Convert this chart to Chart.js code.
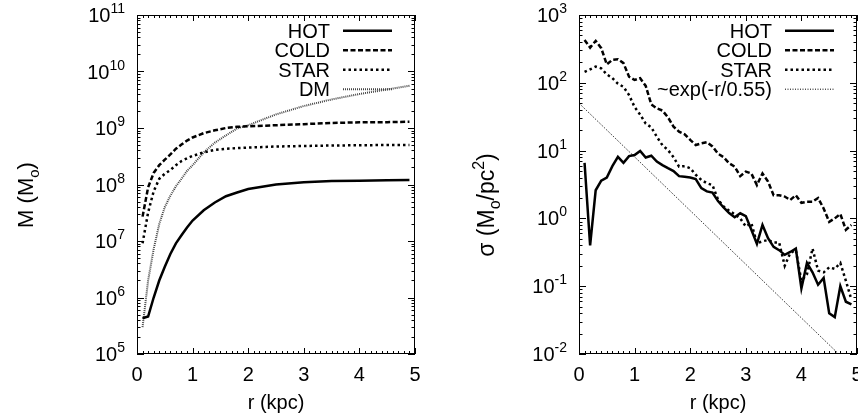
<!doctype html>
<html>
    <head>
        <meta charset="UTF-8" />
        <title>Mass and surface density profiles</title>
        <script src="https://cdn.jsdelivr.net/npm/chart.js"></script>
        <style>
            body { margin: 0; background: #fff; overflow: hidden; }
            #wrap { position: relative; width: 858px; height: 419px; }
            canvas { position: absolute; top: 0; }
        </style>
    </head>

    <body>
        <div id="wrap">
            <canvas id="massChart" width="429" height="419" style="left:0px"></canvas>
            <canvas id="sigmaChart" width="429" height="419" style="left:429px"></canvas>
        </div>

        <script>
        // ---- left panel: enclosed mass M(<r) ----
        var rMass = [0.1, 0.2, 0.3, 0.4, 0.5, 0.6, 0.7, 0.8, 0.9, 1.0, 1.2, 1.4, 1.6, 1.8, 2.0, 2.5, 3.0, 3.5, 4.0, 4.5, 4.9];
        var hotMass  = [4.3e5, 4.6e5, 1.0e6, 2.0e6, 3.5e6, 5.9e6, 9.1e6, 1.26e7, 1.74e7, 2.3e7, 3.5e7, 4.8e7, 6.2e7, 7.2e7, 8.3e7, 1.0e8, 1.1e8, 1.15e8, 1.17e8, 1.19e8, 1.2e8];
        var coldMass = [2.7e7, 8.9e7, 1.6e8, 2.2e8, 2.75e8, 3.4e8, 4.3e8, 5.1e8, 6.0e8, 6.8e8, 8.1e8, 9.1e8, 1.0e9, 1.05e9, 1.07e9, 1.12e9, 1.17e9, 1.23e9, 1.26e9, 1.27e9, 1.29e9];
        var starMass = [9.1e6, 3.2e7, 7.6e7, 1.26e8, 1.55e8, 1.8e8, 2.2e8, 2.6e8, 2.9e8, 3.2e8, 3.7e8, 4.1e8, 4.3e8, 4.4e8, 4.5e8, 4.7e8, 4.8e8, 4.9e8, 4.95e8, 5.0e8, 5.0e8];
        var dmMass   = [3.0e5, 2.0e6, 7.2e6, 2.0e7, 4.0e7, 6.3e7, 9.3e7, 1.26e8, 1.74e8, 2.2e8, 3.7e8, 5.5e8, 7.4e8, 9.8e8, 1.12e9, 1.74e9, 2.45e9, 3.2e9, 4.0e9, 4.8e9, 5.6e9];

        // ---- right panel: surface density sigma(r) ----
        var rSigma = [0.1, 0.2, 0.3, 0.4, 0.5, 0.6, 0.7, 0.8, 0.9, 1.0,
                      1.1, 1.2, 1.3, 1.4, 1.5, 1.6, 1.7, 1.8, 1.9, 2.0,
                      2.1, 2.2, 2.3, 2.4, 2.5, 2.6, 2.7, 2.8, 2.9, 3.0,
                      3.1, 3.2, 3.3, 3.4, 3.5, 3.6, 3.7, 3.8, 3.9, 4.0,
                      4.1, 4.2, 4.3, 4.4, 4.5, 4.6, 4.7, 4.8, 4.9];
        var hotSigma  = [6.6, 0.40, 2.6, 3.6, 4.0, 5.9, 8.1, 6.6, 8.3, 8.6,
                         9.9, 7.9, 8.4, 6.9, 6.1, 5.5, 5.0, 4.2, 4.1, 4.0,
                         3.8, 2.8, 2.5, 2.4, 1.8, 1.45, 1.2, 1.04, 1.19, 1.08,
                         0.68, 0.42, 0.80, 0.51, 0.38, 0.34, 0.29, 0.32, 0.36, 0.093,
                         0.22, 0.16, 0.105, 0.132, 0.040, 0.035, 0.10, 0.059, 0.054];
        var coldSigma = [427, 330, 415, 324, 187, 218, 223, 195, 123, 110,
                         117, 90, 48, 42, 39, 31, 22.6, 19, 17.4, 14.4,
                         12.1, 12.8, 13.3, 11.5, 9.0, 8.0, 6.5, 5.8, 4.2, 4.9,
                         4.6, 3.1, 4.6, 3.5, 2.2, 2.2, 2.1, 1.87, 2.2, 1.7,
                         1.76, 1.76, 2.0, 1.4, 0.89, 1.0, 1.16, 0.68, 0.80];
        var starSigma = [145, 158, 173, 163, 133, 117, 97, 87, 66, 44,
                         34, 25, 22, 16, 12, 10.2, 8.0, 5.8, 5.9, 5.5,
                         4.4, 3.7, 3.3, 3.1, 1.9, 1.5, 1.3, 1.15, 1.0, 0.76,
                         0.85, 0.43, 0.46, 0.48, 0.44, 0.44, 0.20, 0.31, 0.34, 0.12,
                         0.15, 0.36, 0.17, 0.16, 0.19, 0.18, 0.22, 0.12, 0.063];
        // straight fit line ~exp(-r/0.55), end points
        var rFit = [0, 4.66];
        var fitSigma = [50, 0.0102];

        // ---- axes ----
        var xTicks = [0, 1, 2, 3, 4, 5];
        var massTickExps = [5, 6, 7, 8, 9, 10, 11];
        var sigmaTickExps = [-2, -1, 0, 1, 2, 3];

        var FONT = '"Liberation Sans", Arial, sans-serif';
        var MAIN = 20;

        function pts(xs, ys) {
            return xs.map(function (x, i) { return {x: x, y: ys[i]}; });
        }

        function line(label, xs, ys, width, dash, color) {
            return {
                label: label, data: pts(xs, ys),
                borderColor: color || '#000', borderWidth: width, borderDash: dash,
                borderCapStyle: 'butt', pointRadius: 0, fill: false, tension: 0
            };
        }

        // text with super/subscripts: parts = [[text, shift]], shift 1 = sup, -1 = sub
        function drawRich(ctx, parts, x, y, align, size) {
            size = size || MAIN;
            var small = Math.round(size * 0.7);
            var widths = parts.map(function (p) {
                ctx.font = (p[1] ? small : size) + 'px ' + FONT;
                return ctx.measureText(p[0]).width;
            });
            var total = widths.reduce(function (a, b) { return a + b; }, 0);
            var cx = align === 'right' ? x - total : (align === 'center' ? x - total / 2 : x);
            ctx.textAlign = 'left';
            ctx.textBaseline = 'alphabetic';
            parts.forEach(function (p, i) {
                ctx.font = (p[1] ? small : size) + 'px ' + FONT;
                ctx.fillText(p[0], cx, y + (p[1] > 0 ? -0.45 * size : (p[1] < 0 ? 0.25 * size : 0)));
                cx += widths[i];
            });
        }

        // per-chart text settings (kept out of Chart options)
        var panelText = {
            massChart: {exps: massTickExps, title: [['M (M', 0], ['o', -1], [')', 0]], titleX: 26, titleY: 195, titleSize: 22},
            sigmaChart: {exps: sigmaTickExps, title: [['\u03c3 (M', 0], ['o', -1], ['/pc', 0], ['2', 1], [')', 0]], titleX: 58, titleY: 205, titleSize: 23}
        };

        var framePlugin = {
            id: 'frameTicks',
            afterDatasetsDraw: function (chart) {
                var ctx = chart.ctx, a = chart.chartArea;
                var xs = chart.scales.x, ys = chart.scales.y;
                ctx.save();
                ctx.strokeStyle = '#000';
                ctx.lineWidth = 1;
                ctx.setLineDash([]);
                ctx.beginPath();
                for (var i = 0; i <= 50; i++) {
                    var px = Math.round(xs.getPixelForValue(i / 10)) + 0.5;
                    var len = i % 10 === 0 ? 6 : 3;
                    ctx.moveTo(px, a.bottom); ctx.lineTo(px, a.bottom - len);
                    ctx.moveTo(px, a.top); ctx.lineTo(px, a.top + len);
                }
                var lo = Math.round(Math.log10(ys.min)), hi = Math.round(Math.log10(ys.max));
                for (var e = lo; e <= hi; e++) {
                    for (var k = 1; k <= 9; k++) {
                        if (e === hi && k > 1) break;
                        var py = Math.round(ys.getPixelForValue(k * Math.pow(10, e))) + 0.5;
                        var l = k === 1 ? 7 : 3.5;
                        ctx.moveTo(a.left, py); ctx.lineTo(a.left + l, py);
                        ctx.moveTo(a.right, py); ctx.lineTo(a.right - l, py);
                    }
                }
                ctx.stroke();
                ctx.strokeRect(a.left + 0.5, a.top + 0.5, a.right - a.left - 1, a.bottom - a.top - 1);
                ctx.restore();
            }
        };

        var textPlugin = {
            id: 'panelText',
            afterDraw: function (chart) {
                var ctx = chart.ctx, a = chart.chartArea;
                var xs = chart.scales.x, ys = chart.scales.y;
                var cfg = panelText[chart.canvas.id];
                ctx.save();
                ctx.fillStyle = '#000';
                // y tick labels 10^n
                cfg.exps.forEach(function (e) {
                    var py = ys.getPixelForValue(Math.pow(10, e));
                    drawRich(ctx, [['10', 0], [String(e), 1]], a.left - 12, py + 7, 'right');
                });
                // x tick labels
                xTicks.forEach(function (v) {
                    drawRich(ctx, [[String(v), 0]], xs.getPixelForValue(v), 381, 'center');
                });
                drawRich(ctx, [['r (kpc)', 0]], (a.left + a.right) / 2, 409, 'center');
                // rotated y title
                ctx.save();
                ctx.translate(cfg.titleX, cfg.titleY);
                ctx.rotate(-Math.PI / 2);
                drawRich(ctx, cfg.title, 0, 7, 'center', cfg.titleSize);
                ctx.restore();
                // key, top right, text right-aligned with sample line after it
                chart.data.datasets.forEach(function (ds, i) {
                    var y = a.top + 15.7 + i * 19.5;
                    drawRich(ctx, [[ds.label, 0]], a.right - 85, y + 7, 'right');
                    ctx.beginPath();
                    ctx.strokeStyle = ds.borderColor;
                    ctx.lineWidth = ds.borderWidth;
                    ctx.setLineDash(ds.borderDash);
                    ctx.lineCap = 'butt';
                    ctx.moveTo(a.right - 72, y);
                    ctx.lineTo(a.right - 23, y);
                    ctx.stroke();
                });
                ctx.restore();
            }
        };

        function makeChart(id, datasets, yMin, yMax, axisWidth, rightPad) {
            return new Chart(document.getElementById(id).getContext('2d'), {
                type: 'line',
                data: {datasets: datasets},
                options: {
                    responsive: false,
                    animation: false,
                    layout: {padding: {top: 15, right: rightPad, left: 0, bottom: 0}},
                    plugins: {legend: {display: false}, tooltip: {enabled: false}},
                    scales: {
                        x: {
                            type: 'linear', min: 0, max: 5,
                            grid: {display: false, drawTicks: false},
                            border: {display: false},
                            ticks: {display: false},
                            afterFit: function (s) { s.height = 65; s.paddingLeft = 0; s.paddingRight = 0; }
                        },
                        y: {
                            type: 'logarithmic', min: yMin, max: yMax,
                            grid: {display: false, drawTicks: false},
                            border: {display: false},
                            ticks: {display: false},
                            afterFit: function (s) { s.width = axisWidth; s.paddingTop = 0; s.paddingBottom = 0; }
                        }
                    }
                },
                plugins: [framePlugin, textPlugin]
            });
        }

        makeChart('massChart', [
            line('HOT', rMass, hotMass, 2.5, []),
            line('COLD', rMass, coldMass, 2.5, [5, 2.5]),
            line('STAR', rMass, starMass, 2.5, [2.5, 3]),
            line('DM', rMass, dmMass, 2, [1, 1], '#444')
        ], 1e5, 1e11, 137, 14);

        makeChart('sigmaChart', [
            line('HOT', rSigma, hotSigma, 2.5, []),
            line('COLD', rSigma, coldSigma, 2.5, [5, 2.5]),
            line('STAR', rSigma, starSigma, 2.5, [2.5, 3]),
            line('~exp(-r/0.55)', rFit, fitSigma, 1, [1, 1.5])
        ], 1e-2, 1e3, 150, 1);
        </script>
    </body>
</html>
